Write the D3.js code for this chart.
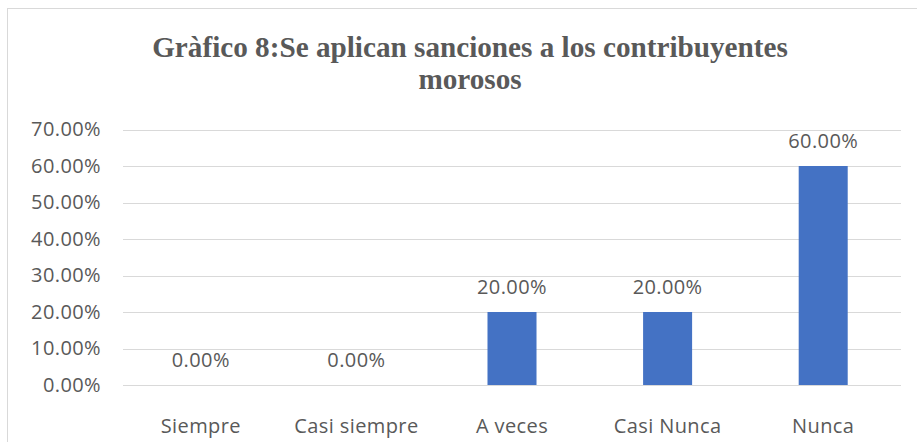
<!DOCTYPE html>
<html lang="es">
<head>
    <meta charset="UTF-8">
    <title>Gràfico 8</title>
    <style>
        body { margin: 0; padding: 0; background: #fff; }
        svg { display: block; }
        .title { font-family: "Liberation Serif", "Times New Roman", serif; font-weight: bold; font-size: 29.2px; fill: #595959; text-anchor: middle; }
        .tick text, .lbl { font-family: "Open Sans", sans-serif; font-size: 20px; letter-spacing: 0.4px; fill: #595959; }
    </style>
</head>
<body>
<svg></svg>
<script src="https://d3js.org/d3.v7.min.js"></script>
<script>
    // data
    const categories = ["Siempre", "Casi siempre", "A veces", "Casi Nunca", "Nunca"];
    const values = [0, 0, 0.20, 0.20, 0.60];
    const yTicks = [0, 0.1, 0.2, 0.3, 0.4, 0.5, 0.6, 0.7];
    const titleLines = ["Gràfico 8:Se aplican sanciones a los contribuyentes", "morosos"];

    const width = 917, height = 442;
    const svg = d3.select("svg").attr("width", width).attr("height", height);

    // chart frame (runs off the right and bottom edges)
    svg.append("rect")
        .attr("x", 7.5).attr("y", 8.5)
        .attr("width", 940).attr("height", 460)
        .attr("fill", "#fff").attr("stroke", "#d9d9d9");

    svg.selectAll(".title")
        .data(titleLines)
        .enter()
        .append("text")
        .attr("class", "title")
        .attr("x", 470)
        .attr("y", (d, i) => 57 + i * 31.5)
        .text(d => d);

    const plotLeft = 123, plotRight = 901, plotTop = 129.5, plotBottom = 385;

    const x = d3.scaleBand()
        .domain(categories)
        .range([plotLeft, plotRight])
        .paddingInner(0.685)
        .paddingOuter(0.3425);

    const y = d3.scaleLinear()
        .domain([0, 0.7])
        .range([plotBottom, plotTop]);

    // gridlines
    svg.append("g")
        .selectAll("line")
        .data(yTicks)
        .enter()
        .append("line")
        .attr("x1", plotLeft).attr("x2", plotRight)
        .attr("y1", d => Math.round(y(d)) + 0.5)
        .attr("y2", d => Math.round(y(d)) + 0.5)
        .attr("stroke", "#d9d9d9")
        .attr("stroke-width", 1);

    // y axis labels
    const yAxis = svg.append("g")
        .attr("transform", `translate(${plotLeft - 19},0)`)
        .call(d3.axisLeft(y).tickValues(yTicks).tickFormat(d3.format(".2%")).tickSize(0));
    yAxis.select(".domain").remove();

    // x axis labels
    const xAxis = svg.append("g")
        .attr("transform", `translate(0,${plotBottom})`)
        .call(d3.axisBottom(x).tickSize(0).tickPadding(34));
    xAxis.select(".domain").remove();

    // bars
    svg.selectAll(".bar")
        .data(values)
        .enter()
        .append("rect")
        .attr("class", "bar")
        .attr("x", (d, i) => x(categories[i]))
        .attr("y", d => y(d))
        .attr("width", x.bandwidth())
        .attr("height", d => plotBottom - y(d))
        .attr("fill", "#4472c4");

    // data labels
    svg.selectAll(".lbl")
        .data(values)
        .enter()
        .append("text")
        .attr("class", "lbl")
        .attr("text-anchor", "middle")
        .attr("x", (d, i) => x(categories[i]) + x.bandwidth() / 2)
        .attr("y", d => y(d) - 18)
        .text(d => d3.format(".2%")(d));
</script>
</body>
</html>
